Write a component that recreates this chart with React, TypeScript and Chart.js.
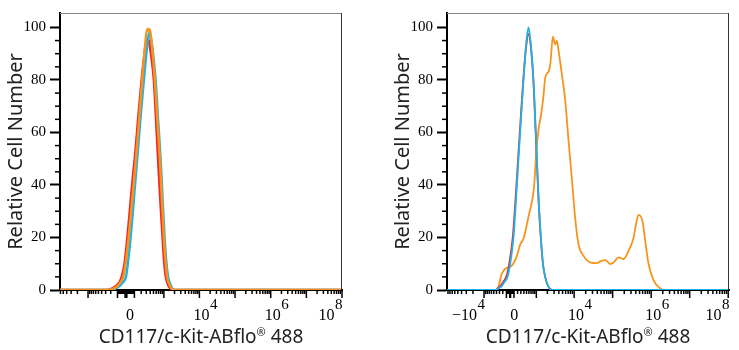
import React, { useEffect, useRef } from "react";
import { Chart, registerables } from "chart.js";
Chart.register(...registerables);

// ---------- axis definitions ----------
const Y_MAJOR = [0, 20, 40, 60, 80, 100];
const Y_MINOR = [5, 10, 15, 25, 30, 35, 45, 50, 55, 65, 70, 75, 85, 90, 95];
const Y_MAX = 105.5;

const X_DECADES = [1, 2, 3, 4, 5, 6, 7, 8];
const X_MINOR_MULT = [2, 3, 4, 5, 6, 7, 8, 9];

const LEFT_TICK_LABELS = [
  { value: 0, base: "0", exp: "" },
  { value: 1e4, base: "10", exp: "4" },
  { value: 1e6, base: "10", exp: "6" },
  { value: 1e8, base: "10", exp: "8" },
];
const RIGHT_TICK_LABELS = [
  { value: -1e4, base: "\u221210", exp: "4" },
  { value: 0, base: "0", exp: "" },
  { value: 1e4, base: "10", exp: "4" },
  { value: 1e6, base: "10", exp: "6" },
  { value: 1e8, base: "10", exp: "8" },
];

// biexponential (asinh) width parameters and display ranges (in decades)
const LEFT_C = 87;
const LEFT_MIN = -1.85;
const LEFT_MAX = 6.06;
const RIGHT_C = 219;
const RIGHT_MIN = -1.64;
const RIGHT_MAX = 5.68;

const X_TITLE_MAIN = "CD117/c-Kit-ABflo";
const X_TITLE_MARK = "\u00AE";
const X_TITLE_TAIL = " 488";
const Y_TITLE = "Relative Cell Number";

const RED = "#F0282A";
const CYAN = "#1AB4E8";
const ORANGE = "#F7941D";

// ---------- data (x in display decades, y = relative cell number) ----------
const leftRedX = [-1.85, -0.55, -0.4, -0.28, -0.18, -0.12, -0.04, 0.04, 0.12, 0.2, 0.26, 0.34, 0.44, 0.52, 0.59, 0.64, 0.7, 0.783, 0.84, 0.9, 0.96, 1.027, 1.07, 1.119, 1.18, 1.25, 1.32, 6.06];
const leftRedY = [0, 0, 0.5, 1.5, 3, 5, 10, 20, 32, 44, 52, 65, 80, 90, 95.8, 95, 90, 80, 66, 50, 35, 20, 11, 5, 2, 0.5, 0, 0];

const leftOrangeX = [-1.85, -0.5, -0.36, -0.24, -0.15, -0.076, 0.0, 0.076, 0.16, 0.22, 0.28, 0.37, 0.456, 0.53, 0.596, 0.63, 0.671, 0.72, 0.811, 0.88, 0.951, 1.01, 1.063, 1.11, 1.155, 1.22, 1.28, 1.34, 6.06];
const leftOrangeY = [0, 0, 0.5, 1.5, 3, 5, 11, 20, 32, 41, 50, 65, 80, 92, 99.5, 98.8, 99.3, 94, 80, 65, 50, 34, 20, 11, 5, 2, 0.6, 0, 0];

const leftCyanX = [-1.85, -0.45, -0.3, -0.18, -0.08, 0.0, 0.06, 0.131, 0.2, 0.26, 0.316, 0.41, 0.503, 0.58, 0.652, 0.7, 0.76, 0.831, 0.9, 0.971, 1.03, 1.083, 1.13, 1.183, 1.25, 1.3, 1.36, 6.06];
const leftCyanY = [0, 0, 0.5, 1.5, 3, 5, 11, 20, 31, 41, 50, 66, 80, 91, 98, 96, 90, 80, 65, 50, 34, 20, 11, 5, 2, 0.6, 0, 0];

const rightRedX = [-1.64, -0.38, -0.32, -0.24, -0.17, -0.09, -0.02, 0.07, 0.14, 0.21, 0.275, 0.34, 0.41, 0.475, 0.54, 0.605, 0.65, 0.693, 0.74, 0.797, 0.85, 0.909, 0.97, 1.03, 1.09, 5.68];
const rightRedY = [0, 0, 0.7, 1.8, 3.3, 5.5, 10.5, 20.5, 35, 51, 66, 80, 92, 97.5, 92, 79, 64, 49, 33, 19.5, 10, 5, 2, 0.5, 0, 0];

const rightCyanX = [-1.64, -0.36, -0.3, -0.22, -0.15, -0.07, 0.0, 0.086, 0.15, 0.216, 0.28, 0.345, 0.41, 0.475, 0.54, 0.605, 0.65, 0.693, 0.74, 0.797, 0.85, 0.909, 0.97, 1.03, 1.09, 5.68];
const rightCyanY = [0, 0, 0.6, 1.5, 3, 5, 10, 20, 34, 50, 65, 80, 93, 100, 93, 80, 65, 50, 34, 20, 10, 5, 2, 0.5, 0, 0];

const rightOrangeX = [-1.64, -0.345, -0.216, -0.13, 0.044, 0.174, 0.26, 0.345, 0.434, 0.502, 0.563, 0.623, 0.675, 0.735, 0.805, 0.865, 0.909, 0.995, 1.039, 1.11, 1.17, 1.21, 1.26, 1.343, 1.43, 1.514, 1.603, 1.688, 1.774, 1.904, 2.078, 2.25, 2.338, 2.468, 2.597, 2.683, 2.813, 2.943, 3.073, 3.203, 3.264, 3.333, 3.436, 3.506, 3.592, 3.722, 3.896, 4.026, 5.68];
const rightOrangeY = [0, 0, 6.2, 8.1, 9.3, 13, 17.4, 19.5, 25, 29.8, 33.5, 39.8, 52, 61, 67, 74, 80.8, 83.2, 85.7, 96.5, 93.5, 95, 90.7, 82, 72, 57, 42, 27.3, 17.4, 13, 10.5, 10.2, 10.9, 11.4, 9.9, 10.5, 12.4, 11.8, 14.9, 19.9, 24.9, 28.6, 26.1, 18.6, 9.9, 3.7, 0.6, 0, 0];

// ---------- helpers ----------
function toPoints(xs: number[], ys: number[]) {
  return xs.map((x, i) => ({ x, y: ys[i] }));
}

function makeTransform(c: number) {
  return (v: number) => Math.asinh(v / (2 * c)) / Math.LN10;
}

const SANS = '"Noto Sans", "Open Sans", sans-serif';
const SERIF = '"Liberation Serif", "DejaVu Serif", serif';

function makeAxisPlugin(c: number, labels: { value: number; base: string; exp: string }[]) {
  const tf = makeTransform(c);
  return {
    id: "flowAxis",
    afterDraw(chart: any) {
      const { ctx, chartArea: a, scales } = chart;
      const x = scales.x;
      const y = scales.y;
      ctx.save();
      // frame top & right
      ctx.strokeStyle = "#888";
      ctx.lineWidth = 1;
      ctx.beginPath();
      ctx.moveTo(a.left, a.top + 0.5);
      ctx.lineTo(a.right - 0.5, a.top + 0.5);
      ctx.stroke();
      ctx.strokeStyle = "#333";
      ctx.beginPath();
      ctx.moveTo(a.right - 0.5, a.top);
      ctx.lineTo(a.right - 0.5, a.bottom);
      ctx.stroke();

      // x ticks
      const ticks: { v: number; major: boolean }[] = [{ v: 0, major: true }];
      for (const k of X_DECADES) {
        for (const m of [1, ...X_MINOR_MULT]) {
          const v = m * Math.pow(10, k);
          ticks.push({ v, major: m === 1 });
          ticks.push({ v: -v, major: m === 1 });
        }
      }
      ctx.strokeStyle = "#000";
      ctx.lineWidth = 1.5;
      for (const t of ticks) {
        const d = tf(t.v);
        if (d < x.min - 1e-3 || d > x.max + 1e-3) continue;
        const px = x.getPixelForValue(d);
        ctx.beginPath();
        ctx.moveTo(px, a.bottom);
        ctx.lineTo(px, a.bottom + (t.major ? 8 : 4));
        ctx.stroke();
      }

      // x tick labels with superscripts
      ctx.fillStyle = "#000";
      ctx.textBaseline = "alphabetic";
      ctx.textAlign = "left";
      for (const L of labels) {
        const px = x.getPixelForValue(tf(L.value));
        ctx.font = "16px " + SERIF;
        const bw = ctx.measureText(L.base).width;
        ctx.font = "15px " + SERIF;
        const ew = L.exp ? ctx.measureText(L.exp).width + 1 : 0;
        let start = px + (L.exp ? 2 : 4) - bw / 2;
        if (start + bw + ew > a.right + 1) start = a.right + 1 - bw - ew;
        if (start < a.left + 5) start = a.left + 5;
        ctx.font = "16px " + SERIF;
        ctx.fillText(L.base, start, a.bottom + 30);
        if (L.exp) {
          ctx.font = "15px " + SERIF;
          ctx.fillText(L.exp, start + bw + 0.5, a.bottom + 19);
        }
      }

      // y minor ticks
      ctx.lineWidth = 1.5;
      for (const v of Y_MINOR) {
        const py = y.getPixelForValue(v);
        ctx.beginPath();
        ctx.moveTo(a.left - 5, py);
        ctx.lineTo(a.left, py);
        ctx.stroke();
      }

      // x title with raised registered mark
      ctx.fillStyle = "#222";
      ctx.font = "19px " + SANS;
      const w1 = ctx.measureText(X_TITLE_MAIN).width;
      const w3 = ctx.measureText(X_TITLE_TAIL).width;
      ctx.font = "11px " + SANS;
      const w2 = ctx.measureText(X_TITLE_MARK).width;
      const total = w1 + w2 + w3;
      let sx = (a.left + a.right) / 2 - total / 2;
      const base = a.bottom + 53;
      ctx.font = "19px " + SANS;
      ctx.fillText(X_TITLE_MAIN, sx, base);
      ctx.font = "11px " + SANS;
      ctx.fillText(X_TITLE_MARK, sx + w1, base - 7);
      ctx.font = "19px " + SANS;
      ctx.fillText(X_TITLE_TAIL, sx + w1 + w2, base);
      ctx.restore();
    },
  };
}

type Series = { x: number[]; y: number[]; color: string };

function Panel(props: {
  width: number;
  padLeft: number;
  padRight: number;
  xMin: number;
  xMax: number;
  c: number;
  labels: { value: number; base: string; exp: string }[];
  series: Series[];
  lineWidth: number;
}) {
  const ref = useRef<HTMLCanvasElement | null>(null);
  useEffect(() => {
    if (!ref.current) return;
    const chart = new Chart(ref.current, {
      type: "line",
      data: {
        datasets: props.series.map((s) => ({
          data: toPoints(s.x, s.y),
          borderColor: s.color,
          backgroundColor: s.color,
          borderWidth: props.lineWidth,
          pointRadius: 0,
          fill: false,
          cubicInterpolationMode: "monotone" as const,
        })),
      },
      options: {
        animation: false,
        responsive: false,
        maintainAspectRatio: false,
        events: [],
        layout: { padding: { left: props.padLeft, right: props.padRight, top: 7, bottom: 0 } },
        plugins: { legend: { display: false }, tooltip: { enabled: false } },
        scales: {
          x: {
            type: "linear",
            min: props.xMin,
            max: props.xMax,
            afterFit: (s: any) => {
              s.height = 60;
            },
            grid: { display: false },
            border: { display: true, color: "#000", width: 2 },
            ticks: { display: false },
            title: { display: false },
          },
          y: {
            type: "linear",
            min: 0,
            max: Y_MAX,
            afterFit: (s: any) => {
              s.width = 60;
            },
            afterBuildTicks: (s: any) => {
              s.ticks = Y_MAJOR.map((v) => ({ value: v }));
            },
            grid: { drawOnChartArea: false, drawTicks: true, tickLength: 10, tickWidth: 2, tickColor: "#000" },
            border: { display: true, color: "#000", width: 2 },
            ticks: {
              color: "#000",
              padding: 4,
              font: { family: SERIF, size: 15 },
            },
            title: {
              display: true,
              text: Y_TITLE,
              color: "#222",
              font: { family: SANS, size: 20 },
              padding: { top: 4, bottom: 0 },
            },
          },
        },
      },
      plugins: [makeAxisPlugin(props.c, props.labels)],
    } as any);
    return () => chart.destroy();
  }, []);
  return <canvas ref={ref} width={props.width} height={350} style={{ width: props.width, height: 350, display: "block" }} />;
}

export default function App() {
  return (
    <div style={{ position: "absolute", left: 0, top: 0, width: 739, height: 350, display: "flex", background: "#fff" }}>
      <Panel
        width={370}
        padLeft={0}
        padRight={28}
        xMin={LEFT_MIN}
        xMax={LEFT_MAX}
        c={LEFT_C}
        labels={LEFT_TICK_LABELS}
        lineWidth={2.5}
        series={[
          { x: leftOrangeX, y: leftOrangeY, color: ORANGE },
          { x: leftCyanX, y: leftCyanY, color: CYAN },
          { x: leftRedX, y: leftRedY, color: RED },
        ]}
      />
      <Panel
        width={369}
        padLeft={17}
        padRight={10}
        xMin={RIGHT_MIN}
        xMax={RIGHT_MAX}
        c={RIGHT_C}
        labels={RIGHT_TICK_LABELS}
        lineWidth={1.8}
        series={[
          { x: rightCyanX, y: rightCyanY, color: CYAN },
          { x: rightRedX, y: rightRedY, color: RED },
          { x: rightOrangeX, y: rightOrangeY, color: ORANGE },
        ]}
      />
    </div>
  );
}
